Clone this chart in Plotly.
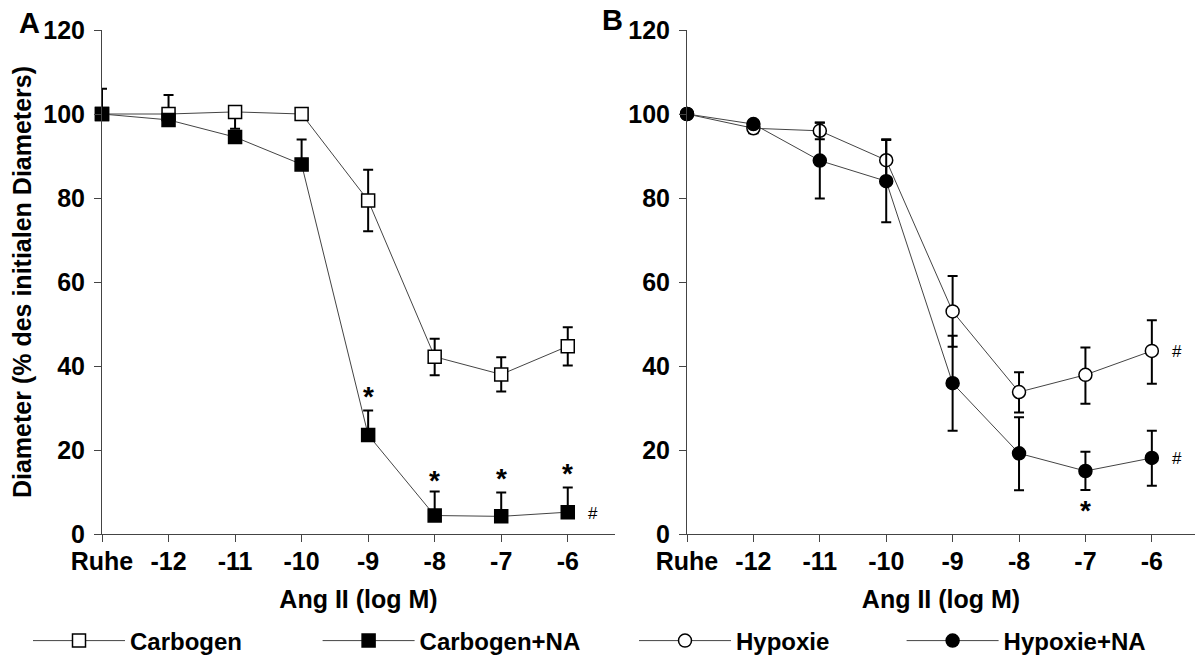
import plotly.graph_objects as go

# ---- data ----
x_labels = ["Ruhe", "-12", "-11", "-10", "-9", "-8", "-7", "-6"]
x_pos = list(range(len(x_labels)))

carbogen = [100, 100, 100.5, 100, 79.4, 42.2, 38.0, 44.7]
carbogen_plus = [0, 4.5, 0, 0, 7.3, 4.3, 4.1, 4.5]
carbogen_minus = [0, 0, 4, 0, 7.3, 4.4, 4.1, 4.6]

carbogen_na = [100, 98.6, 94.5, 88.0, 23.6, 4.4, 4.2, 5.2]
carbogen_na_plus = [6, 0, 0, 5.9, 5.8, 5.7, 5.7, 5.9]
carbogen_na_minus = [0, 0, 0, 0, 0, 0, 0, 0]

hypoxie = [100, 96.6, 96.0, 89.0, 53.0, 33.8, 37.9, 43.6]
hypoxie_plus = [0, 0, 2, 4.8, 8.4, 4.7, 6.5, 7.3]
hypoxie_minus = [0, 1.2, 2, 4.8, 8.4, 4.9, 6.9, 7.8]

hypoxie_na = [100, 97.6, 88.9, 84.0, 35.9, 19.2, 15.0, 18.1]
hypoxie_na_plus = [0, 0, 9, 10, 11.3, 8.6, 4.6, 6.5]
hypoxie_na_minus = [0, 0, 9, 9.8, 11.3, 8.8, 4.5, 6.6]

y_ticks = [0, 20, 40, 60, 80, 100, 120]

# significance marks: (x index, y value)
stars_a = [(4, 33.6), (5, 13.8), (6, 14.1), (7, 15.3)]
hash_a = [(7.38, 4.8)]
stars_b = [(6, 6.4)]
hash_b = [(7.38, 43.5), (7.38, 17.9)]

FONT = "Liberation Sans, Arial, sans-serif"
W, H = 1195, 659
ML, MR, MT, MB = 102, 0, 30, 125
PW = W - ML - MR
PH = H - MT - MB

fig = go.Figure()

def err(plus, minus):
    return dict(type="data", symmetric=False, array=plus, arrayminus=minus,
                color="black", thickness=2, width=5)

def add(name, y, plus, minus, symbol, fill, xa, ya, legend):
    fig.add_trace(go.Scatter(
        x=x_pos, y=y, name=name, mode="lines+markers",
        line=dict(color="#444444", width=1),
        marker=dict(symbol=symbol, size=13, color=fill,
                    line=dict(color="black", width=1.5)),
        error_y=err(plus, minus), cliponaxis=False,
        xaxis=xa, yaxis=ya, legend=legend))

add("Carbogen", carbogen, carbogen_plus, carbogen_minus, "square", "white", "x", "y", "legend")
add("Carbogen+NA", carbogen_na, carbogen_na_plus, carbogen_na_minus, "square", "black", "x", "y", "legend2")
add("Hypoxie", hypoxie, hypoxie_plus, hypoxie_minus, "circle", "white", "x2", "y2", "legend3")
add("Hypoxie+NA", hypoxie_na, hypoxie_na_plus, hypoxie_na_minus, "circle", "black", "x2", "y2", "legend4")

bold = dict(family=FONT, size=25, color="black", weight="bold")

xcommon = dict(tickvals=x_pos, ticktext=x_labels, ticks="outside", ticklen=7,
               tickwidth=1, tickcolor="#444", showline=True, linecolor="#444",
               linewidth=1, showgrid=False, zeroline=False, tickfont=bold,
               automargin=False, ticklabelstandoff=-2,
               title=dict(text="Ang II (log M)", font=bold, standoff=16))
ycommon = dict(tickvals=y_ticks, range=[0, 120], ticks="outside", ticklen=7,
               tickwidth=1, tickcolor="#444", showline=True, linecolor="#444",
               linewidth=1, showgrid=False, zeroline=False, tickfont=bold,
               automargin=False, ticklabelstandoff=4)

dA = [0, 513 / PW]
dB = [585 / PW, 1]
fig.update_layout(
    xaxis=dict(domain=dA, range=[0, 7.71], anchor="y", **xcommon),
    yaxis=dict(domain=[0, 1], anchor="x",
               title=dict(text="Diameter (% des initialen Diameters)", font=bold, standoff=4),
               **ycommon),
    xaxis2=dict(domain=dB, range=[0, 7.65], anchor="y2", **xcommon),
    yaxis2=dict(domain=[0, 1], anchor="x2", **ycommon),
)

def legpos(px):
    return (px - ML) / PW

leg_y = (H - MB - 641) / PH
legfont = dict(family=FONT, size=24, color="black", weight="bold")
for key, px in [("legend", 28), ("legend2", 317.6), ("legend3", 634), ("legend4", 901.6)]:
    fig.update_layout({key: dict(x=legpos(px), y=leg_y, xanchor="left", yanchor="middle",
                                 orientation="h", font=legfont, itemwidth=92,
                                 bgcolor="rgba(0,0,0,0)", borderwidth=0)})

star_font = dict(family=FONT, size=28, color="black", weight="bold")
hash_font = dict(family=FONT, size=17, color="black")
anns = []
for xi, yv in stars_a:
    anns.append(dict(x=xi, y=yv, xref="x", yref="y", text="*", showarrow=False,
                     font=star_font, yshift=-4))
for xi, yv in stars_b:
    anns.append(dict(x=xi, y=yv, xref="x2", yref="y2", text="*", showarrow=False,
                     font=star_font, yshift=-3))
for xi, yv in hash_a:
    anns.append(dict(x=xi, y=yv, xref="x", yref="y", text="#", showarrow=False, font=hash_font))
for xi, yv in hash_b:
    anns.append(dict(x=xi, y=yv, xref="x2", yref="y2", text="#", showarrow=False, font=hash_font))

# panel letters (pixel positions converted to paper coords)
letter_font = dict(family=FONT, size=29, color="black", weight="bold")
for txt, px, py in [("A", 29, 23), ("B", 612, 20)]:
    anns.append(dict(x=(px - ML) / PW, y=(H - MB - py) / PH, xref="paper", yref="paper",
                     xanchor="center", yanchor="middle",
                     text=txt, showarrow=False, font=letter_font))

fig.update_layout(
    width=W, height=H, margin=dict(l=ML, r=MR, t=MT, b=MB, autoexpand=False),
    paper_bgcolor="white", plot_bgcolor="white", annotations=anns,
    showlegend=True,
)

fig.write_html("out.html", config={"displayModeBar": False},
               post_script="document.body.style.margin='0px';document.body.style.overflow='hidden';")
